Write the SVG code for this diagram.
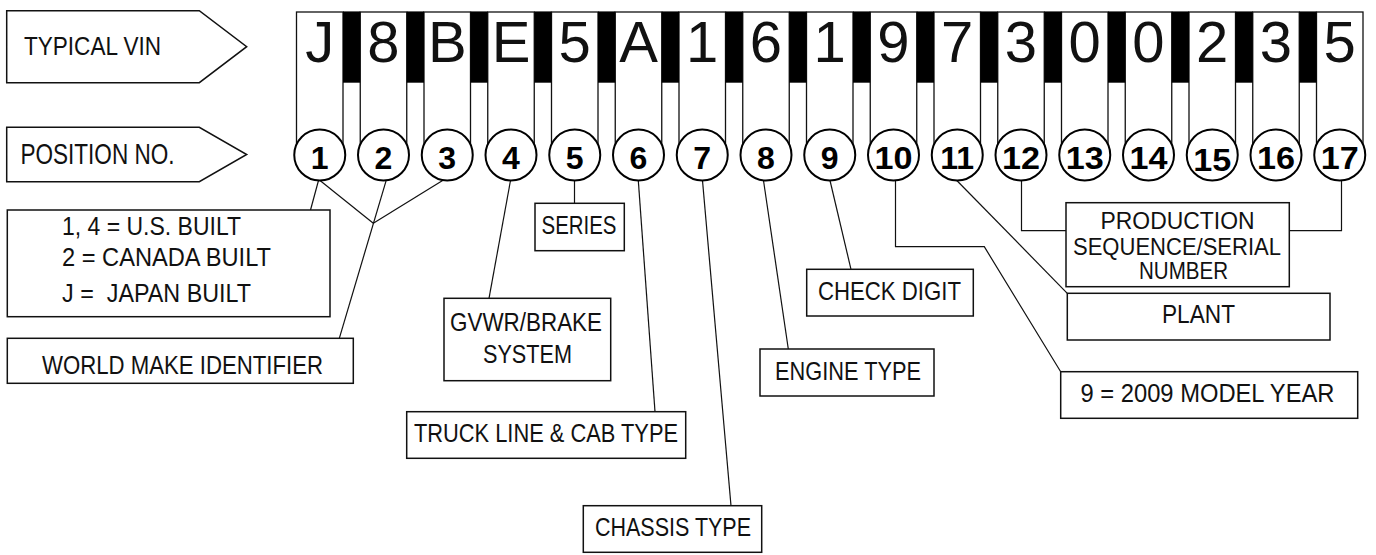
<svg xmlns="http://www.w3.org/2000/svg" width="1376" height="555" viewBox="0 0 1376 555">
<style>
.box{fill:#fff;stroke:#111;stroke-width:1.5}
.cell{fill:#fff;stroke:#111;stroke-width:1.3}
.bar{fill:#000}
.circ{fill:#fff;stroke:#000;stroke-width:2}
.lbl{font-family:"Liberation Sans",Arial,sans-serif;font-size:26px;fill:#111;white-space:pre}
.sm{font-size:24px}
.big{font-family:"Liberation Sans",Arial,sans-serif;font-size:58px;fill:#111;text-anchor:middle}
.num{font-family:"Liberation Sans",Arial,sans-serif;font-size:32px;font-weight:bold;fill:#000;text-anchor:middle}
.conn{fill:none;stroke:#111;stroke-width:1.2}
</style>
<rect width="1376" height="555" fill="#fff"/>
<g id="header-typical-vin">
<polygon class="box" points="6.7,10.7 199.3,10.7 246.7,46.7 199.3,82.7 6.7,82.7"/>
<text class="lbl" x="24" y="55" textLength="137" lengthAdjust="spacingAndGlyphs">TYPICAL VIN</text>
</g>
<g id="header-position-no">
<polygon class="box" points="6.7,127.3 199.3,127.3 246.7,154.5 199.3,181.7 6.7,181.7"/>
<text class="lbl" style="font-size:29px" x="20.5" y="164.3" textLength="154" lengthAdjust="spacingAndGlyphs">POSITION NO.</text>
</g>
<g id="vin-strip">
<rect class="cell" x="296.5" y="12" width="46.5" height="140"/>
<rect class="cell" x="360.25" y="12" width="46.5" height="140"/>
<rect class="cell" x="424" y="12" width="46.5" height="140"/>
<rect class="cell" x="487.75" y="12" width="46.5" height="140"/>
<rect class="cell" x="551.5" y="12" width="46.5" height="140"/>
<rect class="cell" x="615.25" y="12" width="46.5" height="140"/>
<rect class="cell" x="679" y="12" width="46.5" height="140"/>
<rect class="cell" x="742.75" y="12" width="46.5" height="140"/>
<rect class="cell" x="806.5" y="12" width="46.5" height="140"/>
<rect class="cell" x="870.25" y="12" width="46.5" height="140"/>
<rect class="cell" x="934" y="12" width="46.5" height="140"/>
<rect class="cell" x="997.75" y="12" width="46.5" height="140"/>
<rect class="cell" x="1061.5" y="12" width="46.5" height="140"/>
<rect class="cell" x="1125.25" y="12" width="46.5" height="140"/>
<rect class="cell" x="1189" y="12" width="46.5" height="140"/>
<rect class="cell" x="1252.75" y="12" width="46.5" height="140"/>
<rect class="cell" x="1316.5" y="12" width="46.5" height="140"/>
<rect class="bar" x="343" y="11.4" width="17.25" height="71.3"/>
<rect class="bar" x="406.75" y="11.4" width="17.25" height="71.3"/>
<rect class="bar" x="470.5" y="11.4" width="17.25" height="71.3"/>
<rect class="bar" x="534.25" y="11.4" width="17.25" height="71.3"/>
<rect class="bar" x="598" y="11.4" width="17.25" height="71.3"/>
<rect class="bar" x="661.75" y="11.4" width="17.25" height="71.3"/>
<rect class="bar" x="725.5" y="11.4" width="17.25" height="71.3"/>
<rect class="bar" x="789.25" y="11.4" width="17.25" height="71.3"/>
<rect class="bar" x="853" y="11.4" width="17.25" height="71.3"/>
<rect class="bar" x="916.75" y="11.4" width="17.25" height="71.3"/>
<rect class="bar" x="980.5" y="11.4" width="17.25" height="71.3"/>
<rect class="bar" x="1044.25" y="11.4" width="17.25" height="71.3"/>
<rect class="bar" x="1108" y="11.4" width="17.25" height="71.3"/>
<rect class="bar" x="1171.75" y="11.4" width="17.25" height="71.3"/>
<rect class="bar" x="1235.5" y="11.4" width="17.25" height="71.3"/>
<rect class="bar" x="1299.25" y="11.4" width="17.25" height="71.3"/>
<text class="big" x="319.75" y="62">J</text>
<text class="big" x="383.5" y="62">8</text>
<text class="big" x="447.25" y="62">B</text>
<text class="big" x="511" y="62">E</text>
<text class="big" x="574.75" y="62">5</text>
<text class="big" x="638.5" y="62">A</text>
<text class="big" x="702.25" y="62">1</text>
<text class="big" x="766" y="62">6</text>
<text class="big" x="829.75" y="62">1</text>
<text class="big" x="893.5" y="62">9</text>
<text class="big" x="957.25" y="62">7</text>
<text class="big" x="1021" y="62">3</text>
<text class="big" x="1084.75" y="62">0</text>
<text class="big" x="1148.5" y="62">0</text>
<text class="big" x="1212.25" y="62">2</text>
<text class="big" x="1276" y="62">3</text>
<text class="big" x="1339.75" y="62">5</text>
</g>
<g id="connectors">
<line class="conn" x1="318.5" y1="180.5" x2="310.5" y2="210"/>
<line class="conn" x1="320" y1="180.5" x2="373.3" y2="223.3"/>
<line class="conn" x1="443" y1="180.2" x2="373.3" y2="223.3"/>
<line class="conn" x1="386.2" y1="180.4" x2="339.3" y2="338.3"/>
<line class="conn" x1="510.5" y1="180.5" x2="489" y2="298.3"/>
<line class="conn" x1="574.5" y1="180.5" x2="574.5" y2="203.3"/>
<line class="conn" x1="638.3" y1="180.5" x2="655" y2="411.7"/>
<line class="conn" x1="702.5" y1="180.5" x2="731" y2="505.7"/>
<line class="conn" x1="763.5" y1="180.5" x2="788.3" y2="349"/>
<line class="conn" x1="830" y1="180.5" x2="851" y2="269.3"/>
<polyline class="conn" points="895.5,180.5 895.5,246.7 984.3,246.7 1060.7,371.7"/>
<line class="conn" x1="956.8" y1="180.5" x2="1067.3" y2="293.3"/>
<polyline class="conn" points="1021.5,180.5 1021.5,230.7 1066,230.7"/>
<polyline class="conn" points="1341.5,180.5 1341.5,230.7 1289.3,230.7"/>
</g>
<g id="position-circles">
<circle class="circ" cx="319.75" cy="155" r="25.5"/><text class="num" x="319.75" y="168.5">1</text>
<circle class="circ" cx="383.5" cy="155" r="25.5"/><text class="num" x="383.5" y="168.5">2</text>
<circle class="circ" cx="447.25" cy="155" r="25.5"/><text class="num" x="447.25" y="168.5">3</text>
<circle class="circ" cx="511" cy="155" r="25.5"/><text class="num" x="511" y="168.5">4</text>
<circle class="circ" cx="574.75" cy="155" r="25.5"/><text class="num" x="574.75" y="168.5">5</text>
<circle class="circ" cx="638.5" cy="155" r="25.5"/><text class="num" x="638.5" y="168.5">6</text>
<circle class="circ" cx="702.25" cy="155" r="25.5"/><text class="num" x="702.25" y="168.5">7</text>
<circle class="circ" cx="766" cy="155" r="25.5"/><text class="num" x="766" y="168.5">8</text>
<circle class="circ" cx="829.75" cy="155" r="25.5"/><text class="num" x="829.75" y="168.5">9</text>
<circle class="circ" cx="893.5" cy="155" r="25.5"/><text class="num" x="893.5" y="168.5" textLength="38" lengthAdjust="spacingAndGlyphs">10</text>
<circle class="circ" cx="957.25" cy="155" r="25.5"/><text class="num" x="957.25" y="168.5">11</text>
<circle class="circ" cx="1021" cy="155" r="25.5"/><text class="num" x="1021" y="168.5" textLength="38" lengthAdjust="spacingAndGlyphs">12</text>
<circle class="circ" cx="1084.75" cy="155" r="25.5"/><text class="num" x="1084.75" y="168.5" textLength="38" lengthAdjust="spacingAndGlyphs">13</text>
<circle class="circ" cx="1148.5" cy="155" r="25.5"/><text class="num" x="1148.5" y="168.5" textLength="38" lengthAdjust="spacingAndGlyphs">14</text>
<circle class="circ" cx="1212.25" cy="155" r="25.5"/><text class="num" x="1212.25" y="170.5" textLength="38" lengthAdjust="spacingAndGlyphs">15</text>
<circle class="circ" cx="1276" cy="155" r="25.5"/><text class="num" x="1276" y="168.5" textLength="38" lengthAdjust="spacingAndGlyphs">16</text>
<circle class="circ" cx="1339.75" cy="155" r="25.5"/><text class="num" x="1339.75" y="168.5" textLength="38" lengthAdjust="spacingAndGlyphs">17</text>
</g>
<g id="built-country">
<rect class="box" x="7.3" y="210" width="322.7" height="106.7"/>
<text class="lbl" x="62" y="235" textLength="179" lengthAdjust="spacingAndGlyphs">1, 4 = U.S. BUILT</text>
<text class="lbl" x="62" y="266" textLength="209" lengthAdjust="spacingAndGlyphs">2 = CANADA BUILT</text>
<text class="lbl" x="62" y="301.7" textLength="189" lengthAdjust="spacingAndGlyphs">J =  JAPAN BUILT</text>
</g>
<g id="world-make">
<rect class="box" x="7.3" y="338.3" width="346" height="45"/>
<text class="lbl" x="42" y="374" textLength="281" lengthAdjust="spacingAndGlyphs">WORLD MAKE IDENTIFIER</text>
</g>
<g id="series">
<rect class="box" x="535" y="203.3" width="89.3" height="47.4"/>
<text class="lbl" x="541.5" y="234" textLength="75" lengthAdjust="spacingAndGlyphs">SERIES</text>
</g>
<g id="gvwr">
<rect class="box" x="444" y="298.3" width="166.7" height="82.4"/>
<text class="lbl" x="450" y="330.7" textLength="152" lengthAdjust="spacingAndGlyphs">GVWR/BRAKE</text>
<text class="lbl" x="483" y="362.7" textLength="89" lengthAdjust="spacingAndGlyphs">SYSTEM</text>
</g>
<g id="truck-line">
<rect class="box" x="406.7" y="411.7" width="279" height="46.6"/>
<text class="lbl" x="414" y="441.7" textLength="264" lengthAdjust="spacingAndGlyphs">TRUCK LINE &amp; CAB TYPE</text>
</g>
<g id="chassis">
<rect class="box" x="583.3" y="505.7" width="178.4" height="46.6"/>
<text class="lbl" x="595" y="535.7" textLength="156" lengthAdjust="spacingAndGlyphs">CHASSIS TYPE</text>
</g>
<g id="engine">
<rect class="box" x="760" y="349" width="174" height="47"/>
<text class="lbl" x="775" y="380" textLength="146" lengthAdjust="spacingAndGlyphs">ENGINE TYPE</text>
</g>
<g id="check-digit">
<rect class="box" x="806.7" y="269.3" width="166.6" height="46.7"/>
<text class="lbl" x="818" y="300" textLength="143" lengthAdjust="spacingAndGlyphs">CHECK DIGIT</text>
</g>
<g id="production">
<rect class="box" x="1066" y="202.7" width="223.3" height="84"/>
<text class="lbl sm" x="1100.5" y="229.3" textLength="154" lengthAdjust="spacingAndGlyphs">PRODUCTION</text>
<text class="lbl sm" x="1073" y="255" textLength="208" lengthAdjust="spacingAndGlyphs">SEQUENCE/SERIAL</text>
<text class="lbl sm" x="1139" y="279.3" textLength="89" lengthAdjust="spacingAndGlyphs">NUMBER</text>
</g>
<g id="plant">
<rect class="box" x="1067.3" y="293.3" width="262.7" height="46.7"/>
<text class="lbl" x="1162" y="322.7" textLength="73" lengthAdjust="spacingAndGlyphs">PLANT</text>
</g>
<g id="model-year">
<rect class="box" x="1060.7" y="371.7" width="297" height="46.6"/>
<text class="lbl" x="1080.5" y="401.7" textLength="254" lengthAdjust="spacingAndGlyphs">9 = 2009 MODEL YEAR</text>
</g>
</svg>
